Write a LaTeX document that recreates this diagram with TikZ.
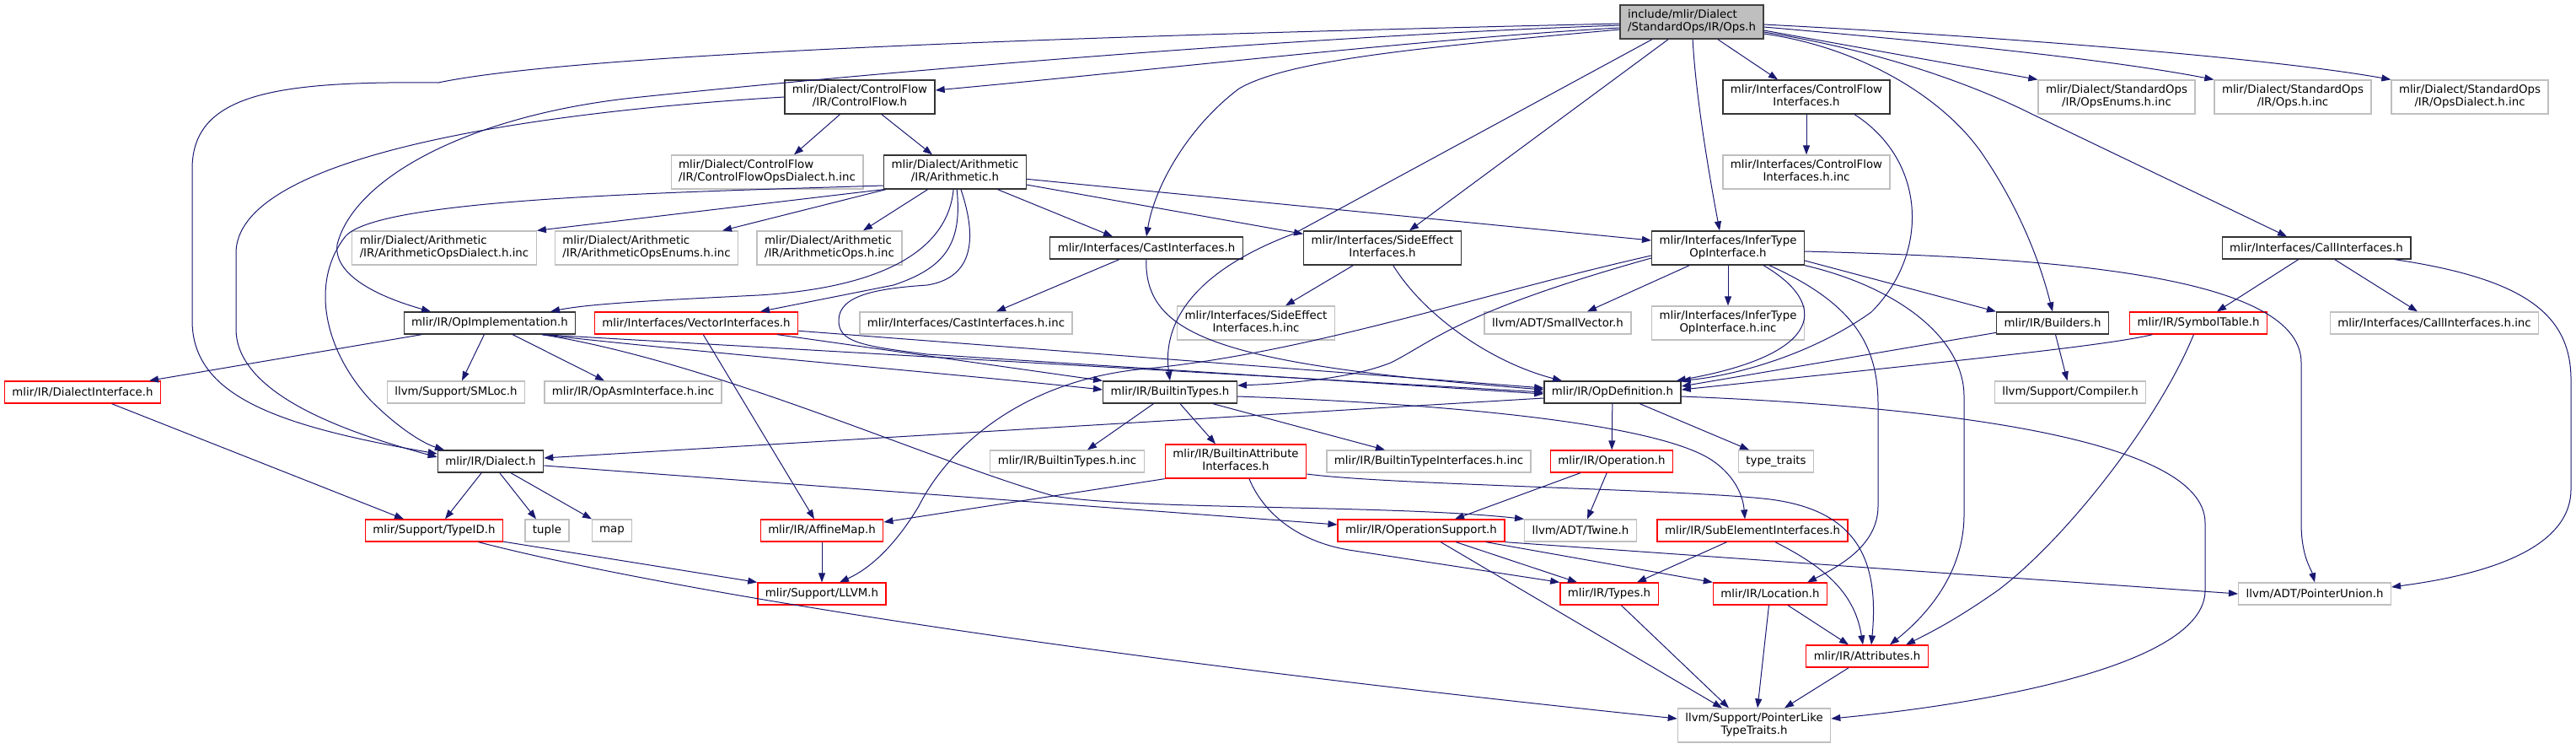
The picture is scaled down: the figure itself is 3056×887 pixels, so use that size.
\documentclass[tikz,border=0pt]{standalone}
\usepackage{fontspec}
\setmainfont{DejaVu Sans}
\usepackage{tikz}
\usetikzlibrary{arrows.meta}

\definecolor{edgeblue}{RGB}{25,25,112}
\definecolor{grey75}{RGB}{191,191,191}

\newlength{\lblw}
\newlength{\lblwb}
% first line flush left, last line centred (as graphviz \l ... )
\newcommand{\twoline}[2]{%
  \settowidth{\lblw}{#1}%
  \settowidth{\lblwb}{#2}%
  \ifdim\lblwb>\lblw \setlength{\lblw}{\lblwb}\fi
  \begin{tabular}{@{}c@{}}\makebox[\lblw][l]{#1}\\#2\end{tabular}}

\begin{document}
\begin{tikzpicture}[
        x=1pt, y=-1pt,
        dep/.style={-{Triangle[length=11pt, width=8pt]}, line width=1pt, draw=edgeblue},
        file/.style={
            rectangle,
            fill=white,
            line width=1.3pt,
            font=\fontsize{13.33}{15}\selectfont,
            inner xsep=9pt,
            inner ysep=5pt,
            minimum height=26pt
        },
        root/.style={file, draw=black!75, fill=grey75},
        hdr/.style={file, draw=black!80},
        ext/.style={file, draw=grey75},
        trunc/.style={file, draw=red}
    ]

    \path[use as bounding box, fill=white] (0,0) rectangle (3056,887);

    \node[root] (ops) at (2007,26) {\twoline{include/mlir/Dialect}{/StandardOps/IR/Ops.h}};

    \node[hdr] (cf) at (1020,115) {\twoline{mlir/Dialect/ControlFlow}{/IR/ControlFlow.h}};
    \node[hdr] (cfi) at (2143,115) {\twoline{mlir/Interfaces/ControlFlow}{Interfaces.h}};
    \node[ext] (opsenums) at (2511,115) {\twoline{mlir/Dialect/StandardOps}{/IR/OpsEnums.h.inc}};
    \node[ext] (opsinc) at (2720,115) {\twoline{mlir/Dialect/StandardOps}{/IR/Ops.h.inc}};
    \node[ext] (opsdialect) at (2930,115) {\twoline{mlir/Dialect/StandardOps}{/IR/OpsDialect.h.inc}};

    \node[ext] (cfopsdialect) at (910,204) {\twoline{mlir/Dialect/ControlFlow}{/IR/ControlFlowOpsDialect.h.inc}};
    \node[hdr] (arith) at (1133,204) {\twoline{mlir/Dialect/Arithmetic}{/IR/Arithmetic.h}};
    \node[ext] (cfiinc) at (2143,204) {\twoline{mlir/Interfaces/ControlFlow}{Interfaces.h.inc}};

    \node[ext] (arithopsdialect) at (527,294) {\twoline{mlir/Dialect/Arithmetic}{/IR/ArithmeticOpsDialect.h.inc}};
    \node[ext] (arithopsenums) at (767,294) {\twoline{mlir/Dialect/Arithmetic}{/IR/ArithmeticOpsEnums.h.inc}};
    \node[ext] (arithops) at (984,294) {\twoline{mlir/Dialect/Arithmetic}{/IR/ArithmeticOps.h.inc}};
    \node[hdr] (cast) at (1360,294) {mlir/Interfaces/CastInterfaces.h};
    \node[hdr] (sideeffect) at (1640,294) {\twoline{mlir/Interfaces/SideEffect}{Interfaces.h}};
    \node[hdr] (infertype) at (2050,294) {\twoline{mlir/Interfaces/InferType}{OpInterface.h}};
    \node[hdr] (callif) at (2748,294) {mlir/Interfaces/CallInterfaces.h};

    \node[hdr] (opimpl) at (581,383) {mlir/IR/OpImplementation.h};
    \node[trunc] (vector) at (826,383) {mlir/Interfaces/VectorInterfaces.h};
    \node[ext] (castinc) at (1146,383) {mlir/Interfaces/CastInterfaces.h.inc};
    \node[ext] (sideeffectinc) at (1490,383) {\twoline{mlir/Interfaces/SideEffect}{Interfaces.h.inc}};
    \node[ext] (smallvector) at (1848,383) {llvm/ADT/SmallVector.h};
    \node[ext] (infertypeinc) at (2050,383) {\twoline{mlir/Interfaces/InferType}{OpInterface.h.inc}};
    \node[hdr] (builders) at (2435,383) {mlir/IR/Builders.h};
    \node[trunc] (symboltable) at (2608,383) {mlir/IR/SymbolTable.h};
    \node[ext] (callinc) at (2888,383) {mlir/Interfaces/CallInterfaces.h.inc};

    \node[trunc] (dialectif) at (98,465) {mlir/IR/DialectInterface.h};
    \node[ext] (smloc) at (541,465) {llvm/Support/SMLoc.h};
    \node[ext] (opasm) at (751,465) {mlir/IR/OpAsmInterface.h.inc};
    \node[hdr] (builtintypes) at (1388,465) {mlir/IR/BuiltinTypes.h};
    \node[hdr] (opdef) at (1913,465) {mlir/IR/OpDefinition.h};
    \node[ext] (compiler) at (2456,465) {llvm/Support/Compiler.h};

    \node[hdr] (dialect) at (582,547) {mlir/IR/Dialect.h};
    \node[ext] (builtintypesinc) at (1266,547) {mlir/IR/BuiltinTypes.h.inc};
    \node[trunc] (builtinattr) at (1466,547) {\twoline{mlir/IR/BuiltinAttribute}{Interfaces.h}};
    \node[ext] (builtintypeifinc) at (1695,547) {mlir/IR/BuiltinTypeInterfaces.h.inc};
    \node[trunc] (operation) at (1912,547) {mlir/IR/Operation.h};
    \node[ext] (typetraits) at (2107,547) {type\_traits};

    \node[trunc] (typeid) at (515,629) {mlir/Support/TypeID.h};
    \node[ext] (tuple) at (649,629) {tuple};
    \node[ext] (map) at (726,629) {map};
    \node[trunc] (affinemap) at (975,629) {mlir/IR/AffineMap.h};
    \node[trunc] (opsupport) at (1686,629) {mlir/IR/OperationSupport.h};
    \node[ext] (twine) at (1875,629) {llvm/ADT/Twine.h};
    \node[trunc] (subelement) at (2079,629) {mlir/IR/SubElementInterfaces.h};

    \node[trunc] (llvm) at (975,704) {mlir/Support/LLVM.h};
    \node[trunc] (types) at (1909,704) {mlir/IR/Types.h};
    \node[trunc] (location) at (2100,704) {mlir/IR/Location.h};
    \node[ext] (pointerunion) at (2746,704) {llvm/ADT/PointerUnion.h};

    \node[trunc] (attributes) at (2215,778) {mlir/IR/Attributes.h};
    \node[ext] (pointerlike) at (2081,860) {\twoline{llvm/Support/PointerLike}{TypeTraits.h}};

    % Ops.h
    \draw[dep] ([yshift=-2pt]ops.west) .. controls (1400,40) and (700,60) .. (520,98) .. controls (330,96) and (228,110) .. (228,200) -- (228,380) .. controls (228,470) and (330,505) .. ([yshift=9pt]dialect.west);
    \draw[dep] ([yshift=-4pt]ops.west) .. controls (1500,45) and (1000,90) .. (760,115) .. controls (560,135) and (420,210) .. (400,290) .. controls (395,330) and (460,355) .. ([xshift=-70pt]opimpl.north);
    \draw[dep] ([yshift=-7pt]ops.west) .. controls (1700,45) and (1350,85) .. ([yshift=8pt]cf.east);
    \draw[dep] ([yshift=-9pt]ops.west) .. controls (1700,55) and (1530,70) .. (1470,105) .. controls (1410,150) and (1370,220) .. (cast.north);
    \draw[dep] ([xshift=-47pt]ops.south) -- (1535,277) .. controls (1420,320) and (1378,380) .. (builtintypes.north);
    \draw[dep] (ops) -- ([xshift=32pt]sideeffect.north);
    \draw[dep] (ops) .. controls (2012,120) and (2030,220) .. ([xshift=-10pt]infertype.north);
    \draw[dep] (ops) -- ([xshift=-34pt]cfi.north);
    \draw[dep] ([yshift=-10pt]ops.east) -- (opsenums.north west);
    \draw[dep] ([yshift=-6pt]ops.east) .. controls (2300,50) and (2500,70) .. (opsinc.north west);
    \draw[dep] ([yshift=-3pt]ops.east) .. controls (2400,45) and (2700,70) .. (opsdialect.north west);
    \draw[dep] ([yshift=-12pt]ops.east) .. controls (2230,60) and (2340,100) .. (2410,135) -- ([xshift=-35pt]callif.north);
    \draw[dep] ([yshift=-14pt]ops.east) .. controls (2200,55) and (2300,110) .. (2350,180) .. controls (2395,245) and (2420,310) .. (builders.north);

    % ControlFlow.h
    \draw[dep] (cf) -- ([xshift=32pt]cfopsdialect.north);
    \draw[dep] (cf) -- ([xshift=-27pt]arith.north);
    \draw[dep] (cf.west) .. controls (600,135) and (280,190) .. (280,300) -- (280,390) .. controls (280,470) and (420,515) .. ([yshift=5pt]dialect.west);

    % Arithmetic.h
    \draw[dep] (arith.south west) -- (arithopsdialect.north east);
    \draw[dep] (arith) -- ([xshift=90pt]arithopsenums.north);
    \draw[dep] (arith) -- ([xshift=40pt]arithops.north);
    \draw[dep] (arith) -- ([xshift=-40pt]cast.north);
    \draw[dep] (arith) -- ([yshift=-4pt]sideeffect.north west);
    \draw[dep] (arith) -- ([yshift=9pt]infertype.west);
    \draw[dep] (arith) .. controls (1125,290) and (1060,340) .. (900,350) .. controls (780,356) and (700,360) .. ([xshift=72pt]opimpl.north);
    \draw[dep] (arith) .. controls (1142,290) and (1120,318) .. (1060,338) -- ([xshift=76pt]vector.north);
    \draw[dep] (arith) .. controls (1162,290) and (1150,330) .. (1100,338) .. controls (1040,342) and (995,350) .. (995,380) .. controls (995,405) and (1020,410) .. (1100,420) -- ([yshift=-2pt]opdef.west);
    \draw[dep] ([yshift=-16pt]arith.west) .. controls (800,228) and (450,235) .. (410,280) .. controls (370,330) and (380,410) .. (440,475) .. controls (470,505) and (500,525) .. ([xshift=-55pt]dialect.north);

    % interfaces
    \draw[dep] (cfi) -- (cfiinc);
    \draw[dep] ([xshift=57pt]cfi.south) .. controls (2285,190) and (2290,300) .. (2220,370) .. controls (2150,420) and (2060,445) .. (opdef.north east);
    \draw[dep] (cast) -- ([xshift=36pt]castinc.north);
    \draw[dep] (cast) .. controls (1358,400) and (1450,432) .. ([yshift=3pt]opdef.west);
    \draw[dep] (sideeffect) -- ([xshift=35pt]sideeffectinc.north);
    \draw[dep] (sideeffect) .. controls (1690,375) and (1770,430) .. ([xshift=-60pt]opdef.north);
    \draw[dep] (infertype) -- ([xshift=35pt]smallvector.north);
    \draw[dep] (infertype) -- (infertypeinc);
    \draw[dep] ([xshift=42pt]infertype.south) .. controls (2170,360) and (2165,420) .. ([xshift=-6pt]opdef.north east);
    \draw[dep] ([yshift=-12pt]infertype.west) .. controls (1730,370) and (1700,405) .. (1650,430) .. controls (1600,450) and (1520,455) .. ([yshift=8pt]builtintypes.east);
    \draw[dep] ([yshift=-9pt]infertype.west) .. controls (1750,350) and (1550,420) .. (1350,438) .. controls (1200,455) and (1120,540) .. (1090,600) .. controls (1060,650) and (1030,675) .. ([xshift=21pt]llvm.north);
    \draw[dep] ([xshift=49pt]infertype.south) .. controls (2200,360) and (2228,410) .. (2228,480) -- (2228,600) .. controls (2228,645) and (2185,670) .. ([xshift=44pt]location.north);
    \draw[dep] (infertype.south east) .. controls (2250,340) and (2330,400) .. (2330,470) -- (2330,610) .. controls (2330,680) and (2285,730) .. ([xshift=27pt]attributes.north);
    \draw[dep] ([yshift=-15pt]infertype.east) -- (builders.north west);
    \draw[dep] ([yshift=-4pt]infertype.east) .. controls (2400,305) and (2730,320) .. (2730,430) -- (2730,620) .. controls (2730,660) and (2742,675) .. (pointerunion.north);
    \draw[dep] (callif) -- ([xshift=22pt]symboltable.north);
    \draw[dep] (callif) -- ([xshift=-20pt]callinc.north);
    \draw[dep] ([xshift=93pt]callif.south) .. controls (2990,330) and (3050,370) .. (3050,450) -- (3050,580) .. controls (3050,660) and (2920,685) .. ([yshift=8pt]pointerunion.east);

    % OpImplementation.h
    \draw[dep] (opimpl) -- ([xshift=79pt]dialectif.north);
    \draw[dep] (opimpl) -- ([xshift=7pt]smloc.north);
    \draw[dep] (opimpl) -- ([xshift=-34pt]opasm.north);
    \draw[dep] ([xshift=62pt]opimpl.south) .. controls (800,415) and (1150,445) .. ([yshift=3pt]builtintypes.west);
    \draw[dep] ([xshift=62pt]opimpl.south) -- (opdef.west);
    \draw[dep] ([xshift=62pt]opimpl.south) .. controls (850,430) and (1100,545) .. (1250,588) .. controls (1350,605) and (1650,598) .. (twine.north west);
    \draw[dep] (vector) -- ([xshift=-9pt]affinemap.north);
    \draw[dep] (vector) -- (builtintypes.north west);
    \draw[dep] (vector) -- ([yshift=5pt]opdef.west);
    \draw[dep] (dialectif) -- ([xshift=-36pt]typeid.north);

    % BuiltinTypes.h, OpDefinition.h
    \draw[dep] (builtintypes) -- ([xshift=24pt]builtintypesinc.north);
    \draw[dep] (builtintypes) -- ([xshift=-24pt]builtinattr.north);
    \draw[dep] (builtintypes) -- ([xshift=-52pt]builtintypeifinc.north);
    \draw[dep] ([yshift=-5pt]builtintypes.east) .. controls (1700,478) and (1960,500) .. (2030,545) .. controls (2060,565) and (2068,590) .. ([xshift=-9pt]subelement.north);
    \draw[dep] ([yshift=-7pt]opdef.west) -- ([yshift=4pt]dialect.east);
    \draw[dep] (opdef) -- (operation);
    \draw[dep] (opdef) -- ([xshift=-32pt]typetraits.north);
    \draw[dep] ([yshift=-5pt]opdef.east) .. controls (2300,482) and (2616,520) .. (2616,620) -- (2616,700) .. controls (2616,790) and (2350,835) .. ([yshift=8pt]pointerlike.east);
    \draw[dep] (builders) -- ([yshift=7pt]opdef.east);
    \draw[dep] (builders) -- (compiler);
    \draw[dep] (symboltable) .. controls (2500,410) and (2300,430) .. ([yshift=3pt]opdef.east);
    \draw[dep] (symboltable) .. controls (2560,500) and (2450,640) .. (2370,700) .. controls (2320,735) and (2290,750) .. ([xshift=46pt]attributes.north);

    % Dialect.h and below
    \draw[dep] (dialect) -- ([xshift=13pt]typeid.north);
    \draw[dep] (dialect) -- ([xshift=-13pt]tuple.north);
    \draw[dep] (dialect) -- ([xshift=-24pt]map.north);
    \draw[dep] ([yshift=-5pt]dialect.east) -- ([yshift=7pt]opsupport.west);
    \draw[dep] (builtinattr.south west) -- ([yshift=10pt]affinemap.east);
    \draw[dep] ([xshift=16pt]builtinattr.south) .. controls (1495,600) and (1530,640) .. (1600,652) -- (types.north west);
    \draw[dep] ([yshift=-15pt]builtinattr.east) .. controls (1650,575) and (2000,580) .. (2100,592) .. controls (2200,605) and (2230,660) .. ([xshift=5pt]attributes.north);
    \draw[dep] (operation) -- ([xshift=40pt]opsupport.north);
    \draw[dep] (operation) -- ([xshift=8pt]twine.north);
    \draw[dep] (subelement) -- ([xshift=33pt]types.north);
    \draw[dep] (subelement) .. controls (2160,670) and (2200,700) .. ([xshift=-5pt]attributes.north);
    \draw[dep] (opsupport) -- ([xshift=-38pt]types.north);
    \draw[dep] (opsupport) -- (location.north west);
    \draw[dep] (opsupport) -- ([xshift=-38pt]pointerlike.north);
    \draw[dep] (opsupport.south east) -- (pointerunion.west);
    \draw[dep] (types) -- ([xshift=-30pt]pointerlike.north);
    \draw[dep] (location) -- ([xshift=4pt]pointerlike.north);
    \draw[dep] (location) -- ([xshift=-22pt]attributes.north);
    \draw[dep] (attributes) -- ([xshift=36pt]pointerlike.north);
    \draw[dep] (typeid) -- (llvm.north west);
    \draw[dep] (typeid) .. controls (750,690) and (1200,770) .. ([yshift=8pt]pointerlike.west);
    \draw[dep] (affinemap) -- (llvm);

\end{tikzpicture}
\end{document}
